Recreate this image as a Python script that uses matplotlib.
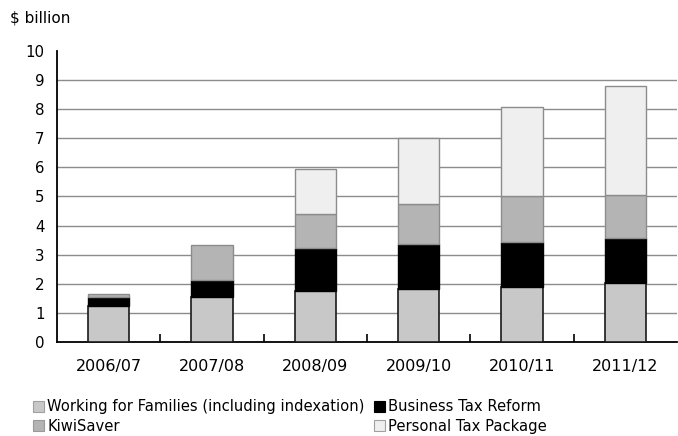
import matplotlib
matplotlib.use("Agg")
import matplotlib.pyplot as plt
from matplotlib.patches import Patch
import numpy as np

plt.rcParams['font.family'] = ['DejaVu Sans']

years = ["2006/07", "2007/08", "2008/09", "2009/10", "2010/11", "2011/12"]
wff = [1.24, 1.54, 1.75, 1.81, 1.88, 2.02]
btr = [0.29, 0.59, 1.47, 1.56, 1.55, 1.54]
kiwi = [0.12, 1.20, 1.18, 1.37, 1.59, 1.49]
ptp = [0.0, 0.0, 1.54, 2.26, 3.06, 3.76]
labels = ["Working for Families (including indexation)", "Business Tax Reform",
          "KiwiSaver", "Personal Tax Package"]

styles = [
    dict(facecolor="#c8c8c8", edgecolor="#1a1a1a", linewidth=1.2),
    dict(facecolor="#000000", edgecolor="#000000", linewidth=1.0),
    dict(facecolor="#b4b4b4", edgecolor="#8c8c8c", linewidth=1.0),
    dict(facecolor="#efefef", edgecolor="#8c8c8c", linewidth=1.0),
]
leg_styles = [
    dict(facecolor="#c8c8c8", edgecolor="#a0a0a0", linewidth=0.8),
    dict(facecolor="#000000", edgecolor="#000000", linewidth=0.8),
    dict(facecolor="#b4b4b4", edgecolor="#999999", linewidth=0.8),
    dict(facecolor="#efefef", edgecolor="#a0a0a0", linewidth=0.8),
]

fig = plt.figure(figsize=(6.78, 4.36), dpi=100)
ax = fig.add_axes([57/678, 1-342/436, (677-57)/678, 291/436])

x = np.arange(len(years))
w = 0.4
bottom = np.zeros(len(years))
for vals, st in zip([wff, btr, kiwi, ptp], styles):
    vals = np.array(vals)
    mask = vals > 0
    ax.bar(x[mask], vals[mask], w, bottom=bottom[mask], color=st["facecolor"],
           edgecolor=st["edgecolor"], linewidth=st["linewidth"], zorder=3)
    bottom = bottom + vals

ax.set_xlim(-0.5, len(years) - 0.5)
ax.set_ylim(0, 10)
ax.set_yticks(range(0, 11))
ax.set_yticklabels([str(i) for i in range(0, 11)], fontsize=10.8)
ax.tick_params(axis='y', length=0, pad=9)
for yv in range(1, 10):
    ax.axhline(yv, color="#8c8c8c", linewidth=1.0, zorder=1)

ax.set_xticks(x)
ax.set_xticklabels(years, fontsize=11.5)
ax.tick_params(axis='x', length=0, pad=12)
ax.set_xticks(np.arange(0.5, len(years) - 1, 1.0), minor=True)
ax.tick_params(axis='x', which='minor', direction='in', length=6, width=1.2, color="#000000")

for s in ["top", "right"]:
    ax.spines[s].set_visible(False)
ax.spines["left"].set_linewidth(1.3)
ax.spines["bottom"].set_linewidth(1.3)

fig.text(10/678, 1-18/436, "$ billion", fontsize=11, va="center", ha="left")

handles = [Patch(**leg_styles[0]), Patch(**leg_styles[2]), Patch(**leg_styles[1]), Patch(**leg_styles[3])]
hl = [labels[0], labels[2], labels[1], labels[3]]
leg = fig.legend(handles, hl, ncol=2, loc="upper left", bbox_to_anchor=(26/678, 1-392/436),
                 frameon=False, fontsize=10.6, handlelength=0.75, handleheight=0.75,
                 handletextpad=0.2, columnspacing=0.65, labelspacing=0.3, borderpad=0)

fig.savefig("out.png", dpi=100)
